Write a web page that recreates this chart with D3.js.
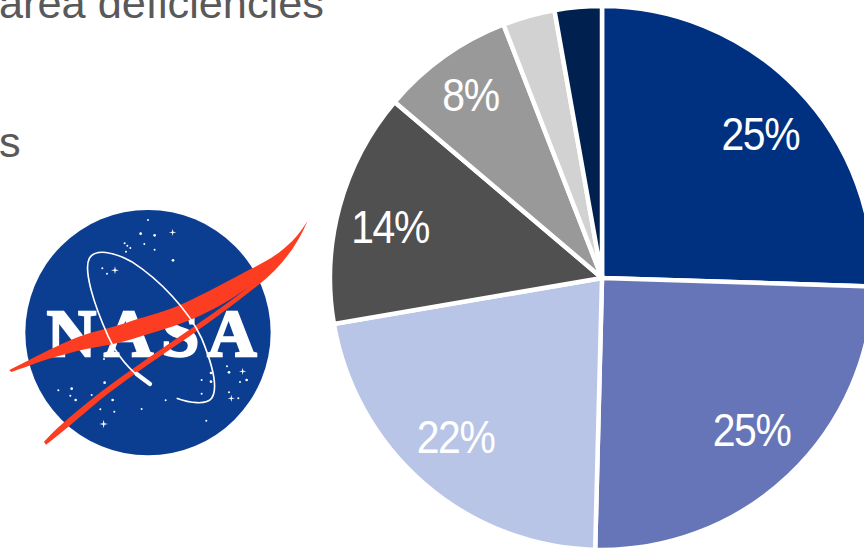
<!DOCTYPE html>
<html><head><meta charset="utf-8">
<script src="https://cdn.jsdelivr.net/npm/d3@7/dist/d3.min.js"></script>
<style>html,body{margin:0;padding:0;background:#fff;overflow:hidden}svg{display:block}</style></head>
<body><div id="c"></div>
<script>
const sliceValues=[25.5,24.9,21.9,13.9,7.9,3.1,2.8];
const sliceLabels=["25%","25%","22%","14%","8%","",""];
const sliceColors=["#003080","#6675b8","#b8c5e6","#505050","#999999","#d2d2d2","#002050"];
const textLines=[["area deficiencies",-1,18],["s",-1,157]];
const smallStars=[[444,90,3],[422,131,4],[464,136,4],[433,162,3],[374,160,3],[382,167,3],[391,174,3],[378,185,3],[464,179,3],[519,211,4],[307,235,3],[321,251,3],[312,507,3],[314,578,4],[175,601,3],[215,596,4],[211,617,3],[227,630,4],[275,615,3],[338,630,4],[301,658,3],[343,665,3],[425,657,3],[497,631,3],[619,692,3],[681,529,3],[687,547,4],[633,549,4],[605,570,3],[633,575,4],[720,576,3],[740,570,4],[605,611,3],[687,607,3],[715,625,3]];
const bigStars=[[518,127,11],[345,241,12],[728,544,11],[694,625,11],[311,702,13]];

const W=864,H=549;
const svg=d3.select("#c").append("svg").attr("width",W).attr("height",H);
const cx=602,cy=278,R=272;
const labelRadius=[0.785,0.79,0.80,0.80,0.82,0,0];
const labelNudge=[[5,4],[2,-5],[-4,-6],[-2,6],[-2,-2],[0,0],[0,0]];
const pie=d3.pie().sort(null).value(d=>d)(sliceValues);
const arc=d3.arc().innerRadius(0).outerRadius(R);
const g=svg.append("g").attr("transform",`translate(${cx},${cy})`);
g.selectAll("path").data(pie).join("path").attr("d",arc)
 .attr("fill",(d,i)=>sliceColors[i]).attr("stroke","#fff").attr("stroke-width",4.5).attr("stroke-linejoin","miter");
g.selectAll("text").data(pie).join("text")
 .attr("transform",(d,i)=>{const a=(d.startAngle+d.endAngle)/2,r=R*labelRadius[i];return `translate(${Math.sin(a)*r+labelNudge[i][0]},${-Math.cos(a)*r+labelNudge[i][1]}) scale(0.87,1)`;})
 .attr("text-anchor","middle").attr("dy","0.35em")
 .attr("font-family","Liberation Sans").attr("font-size",47).attr("letter-spacing",-1.5).attr("fill","#fff")
 .text((d,i)=>sliceLabels[i]);

svg.selectAll("text.body").data(textLines).join("text").attr("class","body")
 .attr("x",d=>d[1]).attr("y",d=>d[2]).text(d=>d[0])
 .attr("font-family","Liberation Sans").attr("font-size",43.3).attr("fill","#595959");

const logo=svg.append("g").attr("transform","translate(0,190) scale(0.3333)");
logo.append("circle").attr("cx",444).attr("cy",428).attr("r",368).attr("fill","#0b3d91");
logo.selectAll("circle.s").data(smallStars).join("circle").attr("class","s")
 .attr("cx",d=>d[0]).attr("cy",d=>d[1]).attr("r",d=>d[2]).attr("fill","#fff");
logo.selectAll("path.b").data(bigStars).join("path").attr("class","b")
 .attr("d",d=>{const[x,y,r]=d,q=r*0.18;return `M${x},${y-r}L${x+q},${y-q}L${x+r},${y}L${x+q},${y+q}L${x},${y+r}L${x-q},${y+q}L${x-r},${y}L${x-q},${y-q}Z`;})
 .attr("fill","#fff");
logo.append("text").attr("x",140).attr("y",497).attr("textLength",630).attr("lengthAdjust","spacing")
 .attr("font-family","Liberation Serif").attr("font-weight","bold").attr("font-size",205).attr("fill","#fff").attr("stroke","#fff").attr("stroke-width",7).text("NASA");
logo.append("path").attr("d","M923,92C880,165 820,205 750,238C690,270 610,315 540,345C480,370 430,380 380,398C320,418 260,425 190,460C130,487 80,515 28,540L34,546C90,527 140,505 200,492C270,470 330,468 400,446C470,425 530,408 590,382C650,355 700,325 745,292C650,365 560,425 480,480C400,535 320,590 260,640C210,680 170,715 132,755L138,764C190,725 240,680 300,630C370,575 450,520 530,465C620,405 700,345 775,285C840,235 890,170 923,92Z").attr("fill","#fc3d21");
logo.append("path").attr("d","M530,625C570,640 620,645 635,625C655,595 640,530 605,445C565,360 480,270 395,215C340,185 285,175 268,205C250,240 280,340 325,440C355,505 400,550 440,578")
 .attr("fill","none").attr("stroke","#fff").attr("stroke-width",5);
logo.append("path").attr("d","M410,552L450,582").attr("stroke","#fff").attr("stroke-width",13).attr("stroke-linecap","round");
</script></body></html>
